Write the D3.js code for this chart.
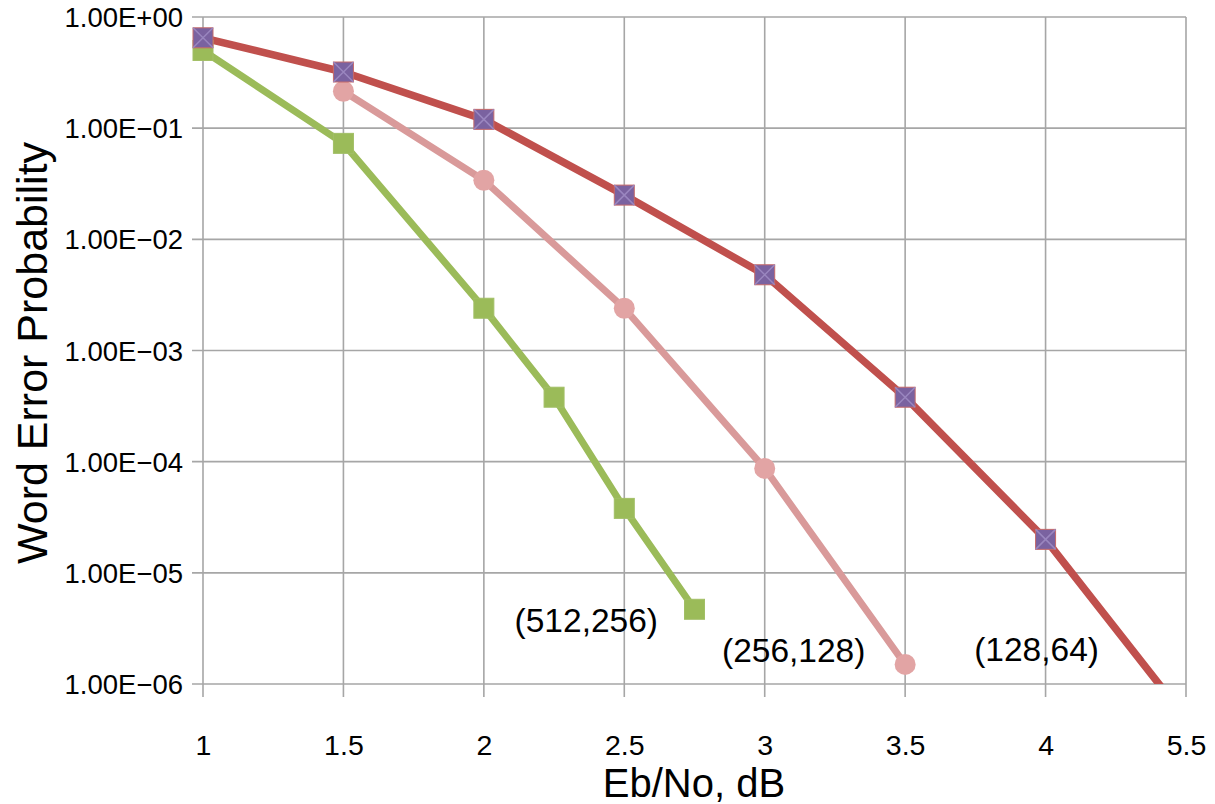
<!DOCTYPE html>
<html><head><meta charset="utf-8">
<script src="https://cdn.jsdelivr.net/npm/d3@7/dist/d3.min.js"></script>
<style>body{margin:0;background:#fff}svg{display:block}text{font-family:"Liberation Sans",Arial,sans-serif;fill:#000}</style>
</head><body>
<svg id="c" width="1215" height="804"></svg>
<script>
// Data
const xTickValues = [1, 1.5, 2, 2.5, 3, 3.5, 4, 4.5];
const xTickLabels = ["1", "1.5", "2", "2.5", "3", "3.5", "4", "5.5"];
const yTickValues = [1, 1e-1, 1e-2, 1e-3, 1e-4, 1e-5, 1e-6];
const yTickLabels = ["1.00E+00", "1.00E\u221201", "1.00E\u221202", "1.00E\u221203", "1.00E\u221204", "1.00E\u221205", "1.00E\u221206"];

const x128 = [1, 1.5, 2, 2.5, 3, 3.5, 4, 4.5];
const y128 = [0.65, 0.32, 0.12, 0.025, 0.0048, 3.8e-4, 2.0e-5, 4.9e-7];
const x256 = [1.5, 2, 2.5, 3, 3.5];
const y256 = [0.215, 0.034, 0.0024, 8.7e-5, 1.5e-6];
const x512 = [1, 1.5, 2, 2.25, 2.5, 2.75];
const y512 = [0.5, 0.073, 0.0024, 3.8e-4, 3.8e-5, 4.7e-6];

const seriesNames = ["(128,64)", "(256,128)", "(512,256)"];
const labelPos = [[4, 1.9e-6], [3, 1.75e-6], [2.5, 3.6e-6]]; // data coords of label anchors

const svg = d3.select("#c");
const L = 203, R = 1186, T = 17, B = 684;
const x = d3.scaleLinear().domain([1, 4.5]).range([L, R]);
const y = d3.scaleLog().domain([1e-6, 1]).range([B, T]);

svg.append("defs").append("clipPath").attr("id", "clip")
  .append("rect").attr("x", L).attr("y", T - 20).attr("width", R - L).attr("height", B - T + 20);

// grid
const grid = svg.append("g").attr("stroke", "#a6a6a6").attr("stroke-width", 1.6);
grid.selectAll(".v").data(xTickValues).join("line")
  .attr("x1", d => x(d)).attr("x2", d => x(d)).attr("y1", T).attr("y2", B + 13);
grid.selectAll(".h").data(yTickValues).join("line")
  .attr("x1", L - 11).attr("x2", R).attr("y1", d => y(d)).attr("y2", d => y(d));

// axes labels via d3 axes (no domain lines)
const xAxis = d3.axisBottom(x).tickValues(xTickValues).tickFormat((d, i) => xTickLabels[i]).tickSize(0).tickPadding(0);
const gx = svg.append("g").attr("transform", `translate(0,${B})`).call(xAxis);
gx.select(".domain").remove();
gx.selectAll("text").attr("y", 71).attr("dy", null).attr("font-size", 28.5).style("font-family", '"Liberation Sans",Arial,sans-serif').attr("fill", "#000");

const yAxis = d3.axisLeft(y).tickValues(yTickValues).tickFormat((d, i) => yTickLabels[i]).tickSize(0).tickPadding(20);
const gy = svg.append("g").attr("transform", `translate(${L},0)`).call(yAxis);
gy.select(".domain").remove();
gy.selectAll("text").attr("font-size", 27.5).attr("dy", "0.35em").style("font-family", '"Liberation Sans",Arial,sans-serif').attr("fill", "#000");

// lines
const line = (xs, ys) => d3.line().x((d, i) => x(xs[i])).y((d) => y(d))(ys);
const plot = svg.append("g");
const lines = plot.append("g").attr("clip-path", "url(#clip)").attr("fill", "none").attr("stroke-linejoin", "round").attr("stroke-linecap", "round");
lines.append("path").attr("d", line(x512, y512)).attr("stroke", "#9bbb59").attr("stroke-width", 7);
lines.append("path").attr("d", line(x256, y256)).attr("stroke", "#d99a9a").attr("stroke-width", 7);
lines.append("path").attr("d", line(x128, y128)).attr("stroke", "#c0504d").attr("stroke-width", 7.5);

// markers
const inDom = v => v >= 1e-6;
const m512 = plot.append("g");
x512.forEach((xv, i) => { if (!inDom(y512[i])) return;
  m512.append("rect").attr("x", x(xv) - 10).attr("y", y(y512[i]) - 10).attr("width", 20).attr("height", 20)
    .attr("fill", "#9bbb59").attr("stroke", "#a2bf66").attr("stroke-width", 1); });
const m256 = plot.append("g");
x256.forEach((xv, i) => { if (!inDom(y256[i])) return;
  m256.append("circle").attr("cx", x(xv)).attr("cy", y(y256[i])).attr("r", 10.5).attr("fill", "#e2a4a4"); });
const m128 = plot.append("g");
x128.forEach((xv, i) => { if (!inDom(y128[i])) return;
  const cx = x(xv), cy = y(y128[i]), h = 10;
  m128.append("rect").attr("x", cx - h).attr("y", cy - h).attr("width", 2 * h).attr("height", 2 * h)
    .attr("fill", "#7a62a0").attr("stroke", "#c66a6a").attr("stroke-width", 1);
  m128.append("path").attr("d", `M${cx - h},${cy - h}L${cx + h},${cy + h}M${cx + h},${cy - h}L${cx - h},${cy + h}`)
    .attr("stroke", "#9a86bf").attr("stroke-width", 1.5); });

// series labels
svg.append("g").selectAll("text").data(seriesNames).join("text")
  .attr("x", (d, i) => x(labelPos[i][0]) - (i === 0 ? 9 : i === 1 ? -29 : 38))
  .attr("y", (d, i) => [661, 662, 632][i])
  .attr("text-anchor", "middle").attr("font-size", 33.5).text(d => d);

// axis titles
svg.append("text").attr("x", 694).attr("y", 797).attr("text-anchor", "middle").attr("font-size", 40).text("Eb/No, dB");
svg.append("text").attr("transform", "translate(47,353) rotate(-90)").attr("text-anchor", "middle").attr("font-size", 43).text("Word Error Probability");
</script>
</body></html>
